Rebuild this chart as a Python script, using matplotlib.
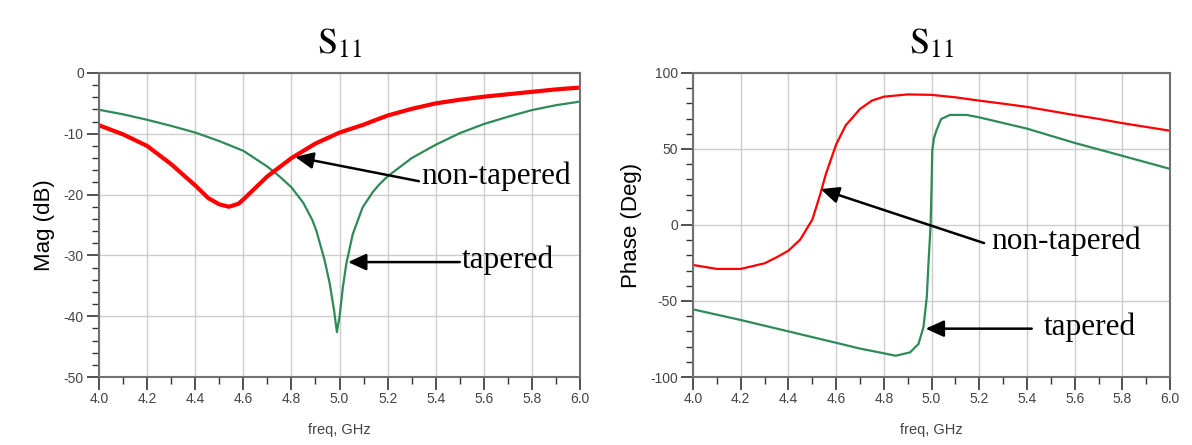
import matplotlib
matplotlib.use("Agg")
import matplotlib.pyplot as plt
from matplotlib.ticker import MultipleLocator

plt.rcParams['mathtext.fontset'] = 'stix'

# S11 magnitude (dB)
f_mag_red = [4.0, 4.1, 4.2, 4.3, 4.4, 4.455, 4.5, 4.54, 4.58, 4.6, 4.65, 4.7, 4.75,
             4.8, 4.9, 5.0, 5.1, 5.166, 5.2, 5.3, 5.4, 5.5, 5.6, 5.7, 5.8, 5.9, 6.0]
mag_red = [-8.6, -10.1, -12.0, -15.0, -18.5, -20.6, -21.6, -22.0, -21.5, -20.8, -18.9,
           -17.0, -15.5, -14.0, -11.6, -9.8, -8.5, -7.5, -7.0, -5.9, -5.0, -4.4, -3.9,
           -3.5, -3.1, -2.7, -2.4]

f_mag_green = [4.0, 4.1, 4.2, 4.3, 4.4, 4.5, 4.6, 4.7, 4.75, 4.8, 4.85, 4.887, 4.904,
               4.938, 4.959, 4.977, 4.989, 5.0, 5.014, 5.028, 5.055, 5.096, 5.138,
               5.166, 5.2, 5.3, 5.4, 5.5, 5.6, 5.7, 5.8, 5.9, 6.0]
mag_green = [-6.05, -6.8, -7.7, -8.7, -9.8, -11.2, -12.8, -15.4, -17.0, -18.8, -21.4,
             -24.2, -26.0, -30.8, -34.6, -39.0, -42.6, -40.1, -35.2, -31.4, -26.5,
             -22.1, -19.6, -18.3, -17.0, -14.0, -11.8, -9.9, -8.4, -7.2, -6.1, -5.3,
             -4.7]

# S11 phase (deg)
f_ph_red = [4.0, 4.1, 4.2, 4.3, 4.35, 4.4, 4.45, 4.5, 4.533, 4.556, 4.6, 4.64, 4.7,
            4.75, 4.8, 4.9, 5.0, 5.1, 5.2, 5.3, 5.4, 5.5, 5.6, 5.7, 5.8, 5.9, 6.0]
ph_red = [-26.3, -28.9, -28.9, -25.2, -21.3, -16.9, -9.5, 3.5, 20.0, 33.0, 53.0,
          65.5, 76.3, 81.8, 84.4, 85.9, 85.6, 84.0, 81.8, 79.8, 77.7, 75.0, 72.3,
          69.8, 67.0, 64.5, 62.0]

f_ph_green = [4.0, 4.2, 4.4, 4.6, 4.7, 4.8, 4.85, 4.91, 4.945, 4.966, 4.98, 4.987,
              4.996, 5.0, 5.003, 5.01, 5.02, 5.04, 5.077, 5.147, 5.2, 5.4, 5.6, 5.8, 6.0]
ph_green = [-55.5, -62.5, -70.0, -77.5, -81.3, -84.4, -86.0, -83.8, -78.3, -67.3,
            -47.6, -25.7, 0.0, 24.8, 48.9, 57.0, 62.0, 69.7, 72.4, 72.4, 70.8, 63.4,
            54.0, 45.5, 36.9]

red = '#ff0000'
green = '#2e8b57'
spine_col = '#707070'
tick_col = '#444444'

fig = plt.figure(figsize=(11.92, 4.45), dpi=100)
ax1 = fig.add_axes([0.0831, 0.1528, 0.4035, 0.6832])
ax2 = fig.add_axes([0.5814, 0.1528, 0.4002, 0.6832])


def style(ax, ylabel, ymin, ymax, ymaj, ymin_step):
    ax.set_xlim(4.0, 6.0)
    ax.set_ylim(ymin, ymax)
    ax.xaxis.set_major_locator(MultipleLocator(0.2))
    ax.xaxis.set_minor_locator(MultipleLocator(0.1))
    ax.yaxis.set_major_locator(MultipleLocator(ymaj))
    ax.yaxis.set_minor_locator(MultipleLocator(ymin_step))
    ax.grid(True, which='major', color='#cccccc', linewidth=1.0)
    ax.set_axisbelow(True)
    for s in ax.spines.values():
        s.set_color(spine_col)
        s.set_linewidth(1.5)
    ax.tick_params(which='major', length=9, width=1.2, color='#333333',
                   labelsize=10, labelcolor=tick_col, pad=2)
    ax.tick_params(which='minor', length=5, width=1.0, color='#333333')
    ax.xaxis.set_major_formatter(plt.FuncFormatter(lambda v, p: f'{v:.1f}'))
    ax.yaxis.set_major_formatter(plt.FuncFormatter(lambda v, p: f'{v:.0f}'))
    for lab in ax.get_xticklabels() + ax.get_yticklabels():
        lab.set_family('Liberation Sans')
    ax.set_xlabel('freq, GHz', fontsize=10.5, color=tick_col,
                  family='Liberation Sans', labelpad=12)
    ax.set_ylabel(ylabel, fontsize=16, family='Liberation Sans', labelpad=6)
    ax.set_title(r'$\mathrm{S}_{11}$', fontsize=26, pad=14)


ax1.plot(f_mag_green, mag_green, color=green, linewidth=1.6)
ax1.plot(f_mag_red, mag_red, color=red, linewidth=3.0)
style(ax1, 'Mag (dB)', -50, 0, 10, 2)

ax2.plot(f_ph_red, ph_red, color=red, linewidth=1.6)
ax2.plot(f_ph_green, ph_green, color=green, linewidth=1.6)
style(ax2, 'Phase (Deg)', -100, 100, 50, 10)

arrow = dict(arrowstyle='-|>,head_length=1.1,head_width=0.5', color='black',
             linewidth=1.8, shrinkA=0, shrinkB=0)
txt = dict(fontsize=22.5, family='Liberation Serif', va='center', ha='left')

ax1.annotate('', xy=(4.815, -13.8), xytext=(5.33, -17.8), arrowprops=arrow)
ax1.text(5.34, -17.0, 'non-tapered', **txt)
ax1.annotate('', xy=(5.035, -31.1), xytext=(5.5, -31.1), arrowprops=arrow)
ax1.text(5.51, -30.8, 'tapered', **txt)

ax2.annotate('', xy=(4.535, 23.6), xytext=(5.22, -11.9), arrowprops=arrow)
ax2.text(5.25, -11.0, 'non-tapered', **txt)
ax2.annotate('', xy=(4.975, -68.2), xytext=(5.42, -68.2), arrowprops=arrow)
ax2.text(5.47, -67.0, 'tapered', **txt)

fig.savefig('out.png', dpi=100)
